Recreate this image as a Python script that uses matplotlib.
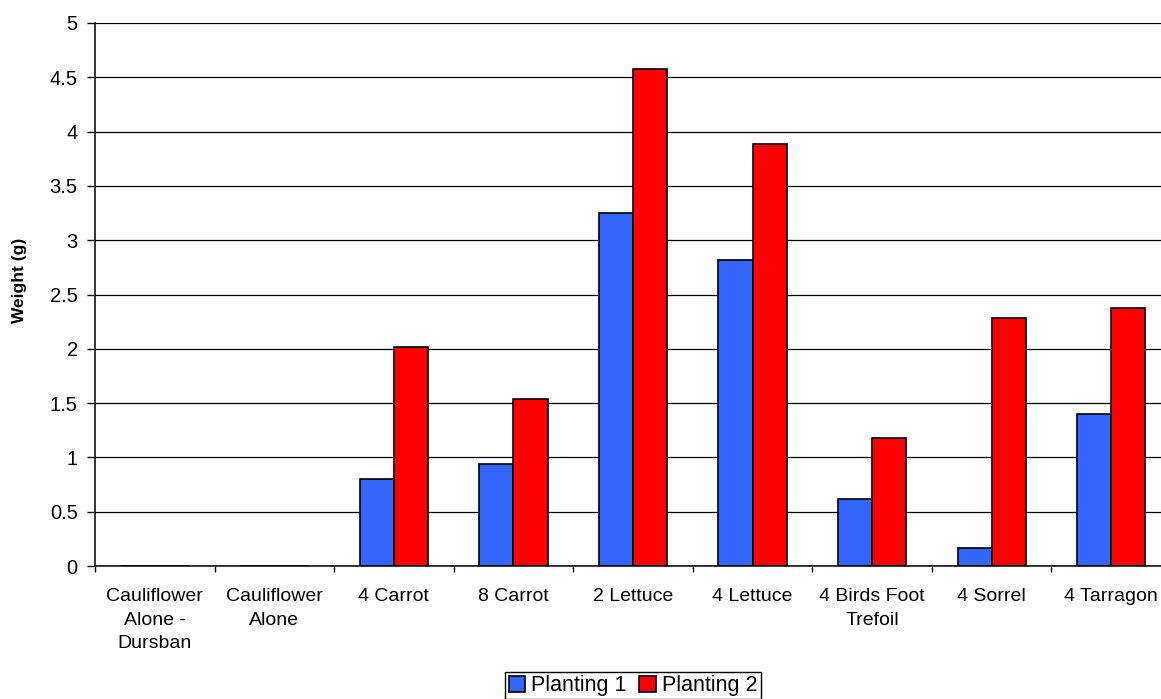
import numpy as np
import matplotlib.pyplot as plt

plt.rcParams['font.family'] = ['Liberation Sans', 'DejaVu Sans']

categories = ['Cauliflower\nAlone -\nDursban', 'Cauliflower\nAlone', '4 Carrot', '8 Carrot',
              '2 Lettuce', '4 Lettuce', '4 Birds Foot\nTrefoil', '4 Sorrel', '4 Tarragon']
planting_1 = [0, 0, 0.80, 0.94, 3.25, 2.82, 0.62, 0.17, 1.40]
planting_2 = [0, 0, 2.02, 1.54, 4.58, 3.89, 1.18, 2.28, 2.38]
series_names = ['Planting 1', 'Planting 2']

x = np.arange(len(categories))
w = 0.285

fig = plt.figure(figsize=(11.61, 6.99), dpi=100)
ax = fig.add_axes([95/1161, 133/699, (1171-95)/1161, (566-23)/699])

ax.bar(x - w/2, planting_1, w, color='#3366FF', edgecolor='black', linewidth=1.2, label=series_names[0])
ax.bar(x + w/2, planting_2, w, color='#FF0000', edgecolor='black', linewidth=1.2, label=series_names[1])

ax.set_xlim(-0.5, len(categories) - 0.5)
ax.set_ylim(0, 5)
ax.set_yticks(np.arange(0, 5.01, 0.5))
ax.set_yticklabels(['0', '0.5', '1', '1.5', '2', '2.5', '3', '3.5', '4', '4.5', '5'])
ax.yaxis.grid(True, color='black', linewidth=0.9)
ax.set_axisbelow(True)

ax.set_xticks(x)
ax.set_xticklabels(categories, fontsize=14, linespacing=1.5, va='top')
ax.set_xticks(np.arange(-0.5, len(categories)), minor=True)
ax.tick_params(axis='x', which='major', length=0, pad=16)
ax.tick_params(axis='x', which='minor', length=4.5, width=1, direction='out')
ax.tick_params(axis='y', length=5.5, width=1, labelsize=14.5, pad=7)

for s in ['top', 'right']:
    ax.spines[s].set_visible(False)
for s in ['left', 'bottom']:
    ax.spines[s].set_linewidth(1.1)

# y axis title, placed by hand a little above the axis centre
fig.text(20/1161, 1 - 280/699, 'Weight (g)', rotation=90, ha='center', va='center',
         fontsize=12.5, fontweight='bold')

fig.legend(loc='upper center', bbox_to_anchor=(633/1161, (699-672)/699), ncol=2,
           fontsize=15.5, frameon=True, fancybox=False, edgecolor='black', framealpha=1,
           handlelength=0.75, handleheight=0.75, handletextpad=0.3, columnspacing=0.6,
           borderpad=0.15, borderaxespad=0)

fig.savefig('out.png', dpi=100)
